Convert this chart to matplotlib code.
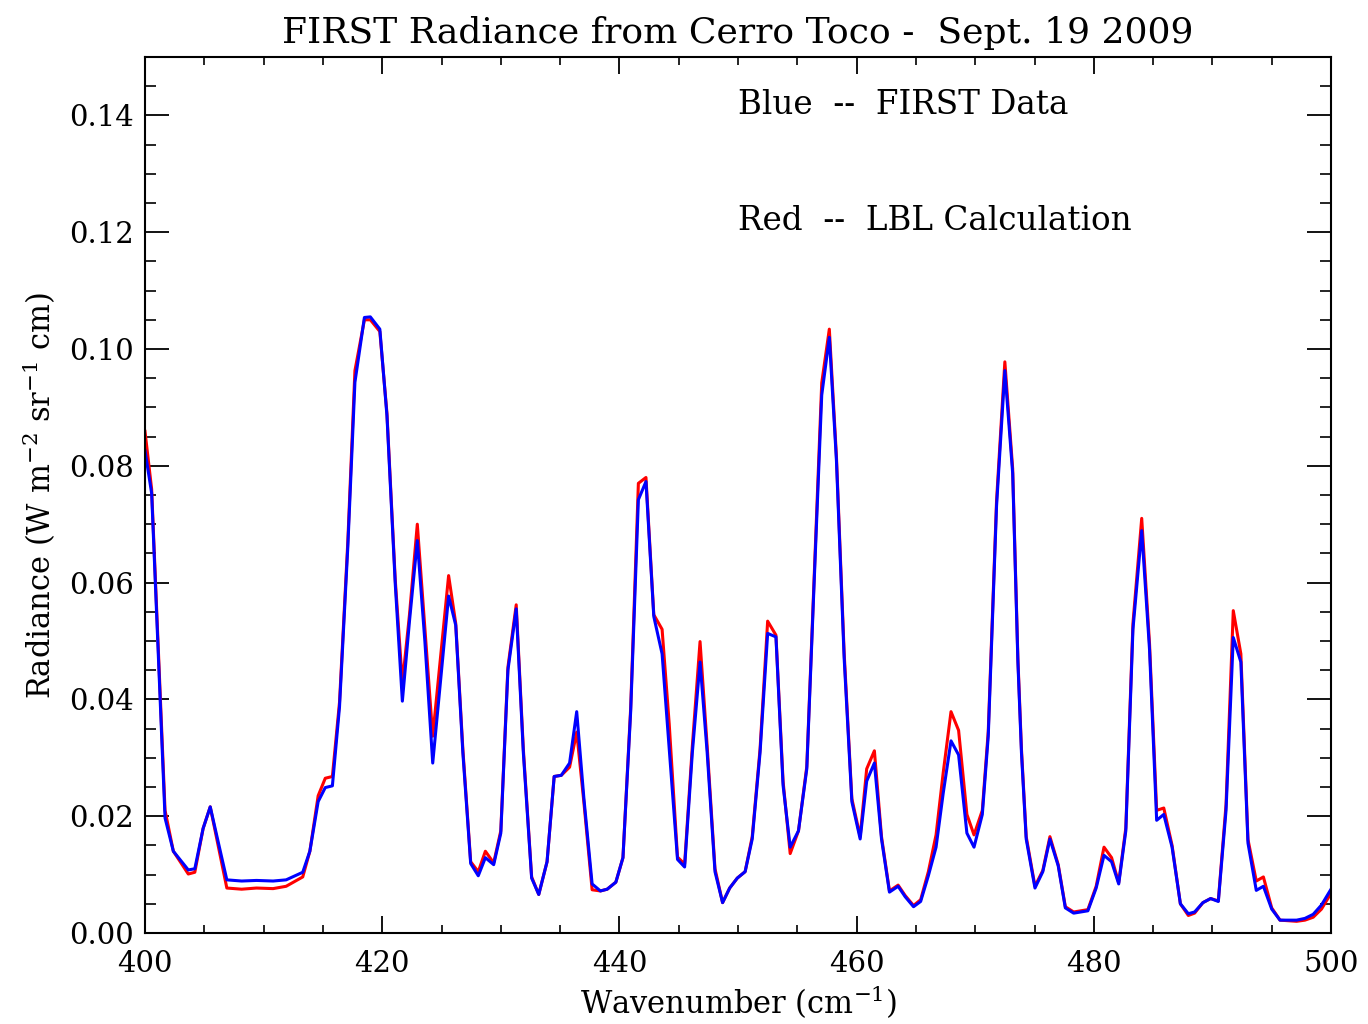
import matplotlib
matplotlib.use("Agg")
import matplotlib.pyplot as plt
from matplotlib.ticker import MultipleLocator, FormatStrFormatter

# Wavenumber (cm^-1) sample positions
wavenumber = [400.0, 400.56, 401.69, 402.39, 403.65, 404.2, 404.9, 405.5, 406.9, 408.15,
              409.4, 410.8, 411.9, 413.3, 413.9, 414.6, 415.2, 415.8, 416.4, 417.1,
              417.7, 418.5, 419.0, 419.8, 420.4, 421.1, 421.7, 422.3, 422.96, 423.6,
              424.26, 425.6, 426.2, 426.8, 427.46, 428.1, 428.7, 429.4, 430.0, 430.6,
              431.3, 431.9, 432.6, 433.2, 433.9, 434.5, 435.1, 435.8, 436.4, 437.0,
              437.7, 438.4, 438.97, 439.7, 440.3, 440.95, 441.6, 442.24, 442.9, 443.6,
              444.2, 444.9, 445.5, 446.15, 446.8, 447.4, 448.06, 448.7, 449.3, 449.94,
              450.6, 451.2, 451.86, 452.5, 453.2, 453.8, 454.4, 455.1, 455.8, 456.4,
              457.06, 457.7, 458.3, 458.95, 459.6, 460.3, 460.85, 461.5, 462.1, 462.77,
              463.5, 464.1, 464.8, 465.4, 466.05, 466.7, 467.3, 467.96, 468.6, 469.3,
              469.9, 470.6, 471.1, 471.8, 472.5, 473.16, 473.6, 473.9, 474.3, 475.04,
              475.7, 476.3, 477.0, 477.6, 478.3, 478.9, 479.5, 480.2, 480.86, 481.5,
              482.1, 482.7, 483.3, 484.04, 484.7, 485.3, 485.9, 486.6, 487.3, 487.97,
              488.5, 489.2, 489.85, 490.5, 491.15, 491.76, 492.4, 493.0, 493.7, 494.3,
              495.0, 495.7, 496.4, 497.1, 497.8, 498.5, 499.2, 500.0]

# Blue: FIRST measured radiance
first_data = [0.0826, 0.0753, 0.0197, 0.0140, 0.0108, 0.0110, 0.0179, 0.0216, 0.0091, 0.0089,
              0.0090, 0.0089, 0.0091, 0.0104, 0.0140, 0.0225, 0.0249, 0.0252, 0.0387, 0.0661,
              0.0943, 0.1054, 0.1055, 0.1034, 0.0886, 0.0598, 0.0397, 0.0534, 0.0672, 0.0499,
              0.0291, 0.0577, 0.0527, 0.0309, 0.0119, 0.0098, 0.0129, 0.0117, 0.0171, 0.0450,
              0.0555, 0.0309, 0.0094, 0.0066, 0.0122, 0.0268, 0.0270, 0.0291, 0.0379, 0.0232,
              0.0084, 0.0072, 0.0075, 0.0087, 0.0129, 0.0379, 0.0742, 0.0773, 0.0542, 0.0478,
              0.0316, 0.0126, 0.0113, 0.0309, 0.0464, 0.0309, 0.0105, 0.0052, 0.0077, 0.0094,
              0.0105, 0.0161, 0.0309, 0.0513, 0.0507, 0.0253, 0.0147, 0.0175, 0.0281, 0.0590,
              0.0921, 0.1020, 0.0809, 0.0471, 0.0225, 0.0161, 0.0260, 0.0291, 0.0161, 0.0070,
              0.0080, 0.0062, 0.0045, 0.0054, 0.0098, 0.0147, 0.0239, 0.0329, 0.0305, 0.0171,
              0.0147, 0.0203, 0.0337, 0.0731, 0.0963, 0.0787, 0.0464, 0.0309, 0.0161, 0.0077,
              0.0105, 0.0161, 0.0115, 0.0043, 0.0034, 0.0036, 0.0038, 0.0077, 0.0133, 0.0122,
              0.0084, 0.0175, 0.0520, 0.0689, 0.0485, 0.0193, 0.0203, 0.0147, 0.0050, 0.0033,
              0.0036, 0.0052, 0.0059, 0.0054, 0.0210, 0.0506, 0.0464, 0.0154, 0.0073, 0.0080,
              0.0041, 0.0022, 0.0022, 0.0022, 0.0025, 0.0032, 0.0048, 0.0075]

# Red: LBL calculation
lbl_calc = [0.0859, 0.0760, 0.0210, 0.0140, 0.0101, 0.0104, 0.0179, 0.0216, 0.0077, 0.0075,
            0.0077, 0.0076, 0.0080, 0.0096, 0.0140, 0.0235, 0.0265, 0.0268, 0.0395, 0.0670,
            0.0963, 0.1050, 0.1050, 0.1030, 0.0890, 0.0605, 0.0428, 0.0545, 0.0700, 0.0520,
            0.0337, 0.0612, 0.0530, 0.0315, 0.0122, 0.0105, 0.0140, 0.0120, 0.0175, 0.0455,
            0.0562, 0.0315, 0.0096, 0.0066, 0.0122, 0.0268, 0.0270, 0.0284, 0.0344, 0.0225,
            0.0074, 0.0072, 0.0075, 0.0087, 0.0129, 0.0385, 0.0770, 0.0780, 0.0545, 0.0520,
            0.0358, 0.0130, 0.0118, 0.0320, 0.0499, 0.0320, 0.0110, 0.0052, 0.0077, 0.0094,
            0.0105, 0.0165, 0.0315, 0.0534, 0.0510, 0.0260, 0.0136, 0.0175, 0.0285, 0.0600,
            0.0942, 0.1034, 0.0816, 0.0480, 0.0230, 0.0165, 0.0281, 0.0312, 0.0165, 0.0072,
            0.0082, 0.0064, 0.0047, 0.0057, 0.0105, 0.0168, 0.0274, 0.0379, 0.0347, 0.0203,
            0.0168, 0.0210, 0.0345, 0.0740, 0.0978, 0.0795, 0.0470, 0.0315, 0.0165, 0.0080,
            0.0107, 0.0165, 0.0117, 0.0045, 0.0036, 0.0038, 0.0040, 0.0080, 0.0147, 0.0129,
            0.0086, 0.0180, 0.0530, 0.0710, 0.0495, 0.0210, 0.0214, 0.0150, 0.0050, 0.0030,
            0.0034, 0.0052, 0.0059, 0.0055, 0.0220, 0.0552, 0.0478, 0.0160, 0.0089, 0.0096,
            0.0043, 0.0022, 0.0021, 0.0020, 0.0022, 0.0027, 0.0041, 0.0068]

title = "FIRST Radiance from Cerro Toco -  Sept. 19 2009"
legend_blue = "Blue  --  FIRST Data"
legend_red = "Red  --  LBL Calculation"

plt.rcParams['font.family'] = ['DejaVu Serif']
plt.rcParams['mathtext.fontset'] = 'dejavuserif'

fig = plt.figure(figsize=(13.68, 10.24), dpi=100)
ax = fig.add_axes([145/1368, 1 - 933/1024, (1331-145)/1368, (933-57)/1024])

ax.plot(wavenumber, lbl_calc, color='#ff0000', lw=2.2)
ax.plot(wavenumber, first_data, color='#0000ff', lw=2.2)

ax.set_xlim(400, 500)
ax.set_ylim(0, 0.15)
ax.xaxis.set_major_locator(MultipleLocator(20))
ax.xaxis.set_minor_locator(MultipleLocator(5))
ax.yaxis.set_major_locator(MultipleLocator(0.02))
ax.yaxis.set_minor_locator(MultipleLocator(0.005))
ax.yaxis.set_major_formatter(FormatStrFormatter('%.2f'))
ax.set_yticks([0, 0.02, 0.04, 0.06, 0.08, 0.10, 0.12, 0.14])

ax.tick_params(axis='x', which='major', direction='in', length=12, width=1.3,
               top=True, bottom=True, labelsize=21, pad=12)
ax.tick_params(axis='x', which='minor', direction='in', length=6, width=1.2,
               top=True, bottom=True)
ax.tick_params(axis='y', which='major', direction='in', length=17, width=1.3,
               left=True, right=True, labelsize=21, pad=8)
ax.tick_params(axis='y', which='minor', direction='in', length=8, width=1.2,
               left=True, right=True)
for s in ax.spines.values():
    s.set_linewidth(1.5)

ax.set_title(title, fontsize=26, pad=10)
ax.set_xlabel("Wavenumber (cm$^{-1}$)", fontsize=22, labelpad=4)
ax.set_ylabel("Radiance (W m$^{-2}$ sr$^{-1}$ cm)", fontsize=22, labelpad=8)

ax.text(450.0, 0.1417, legend_blue, fontsize=23.5, ha='left', va='center')
ax.text(450.0, 0.1219, legend_red, fontsize=23.5, ha='left', va='center')

fig.savefig("out.png", dpi=100)
